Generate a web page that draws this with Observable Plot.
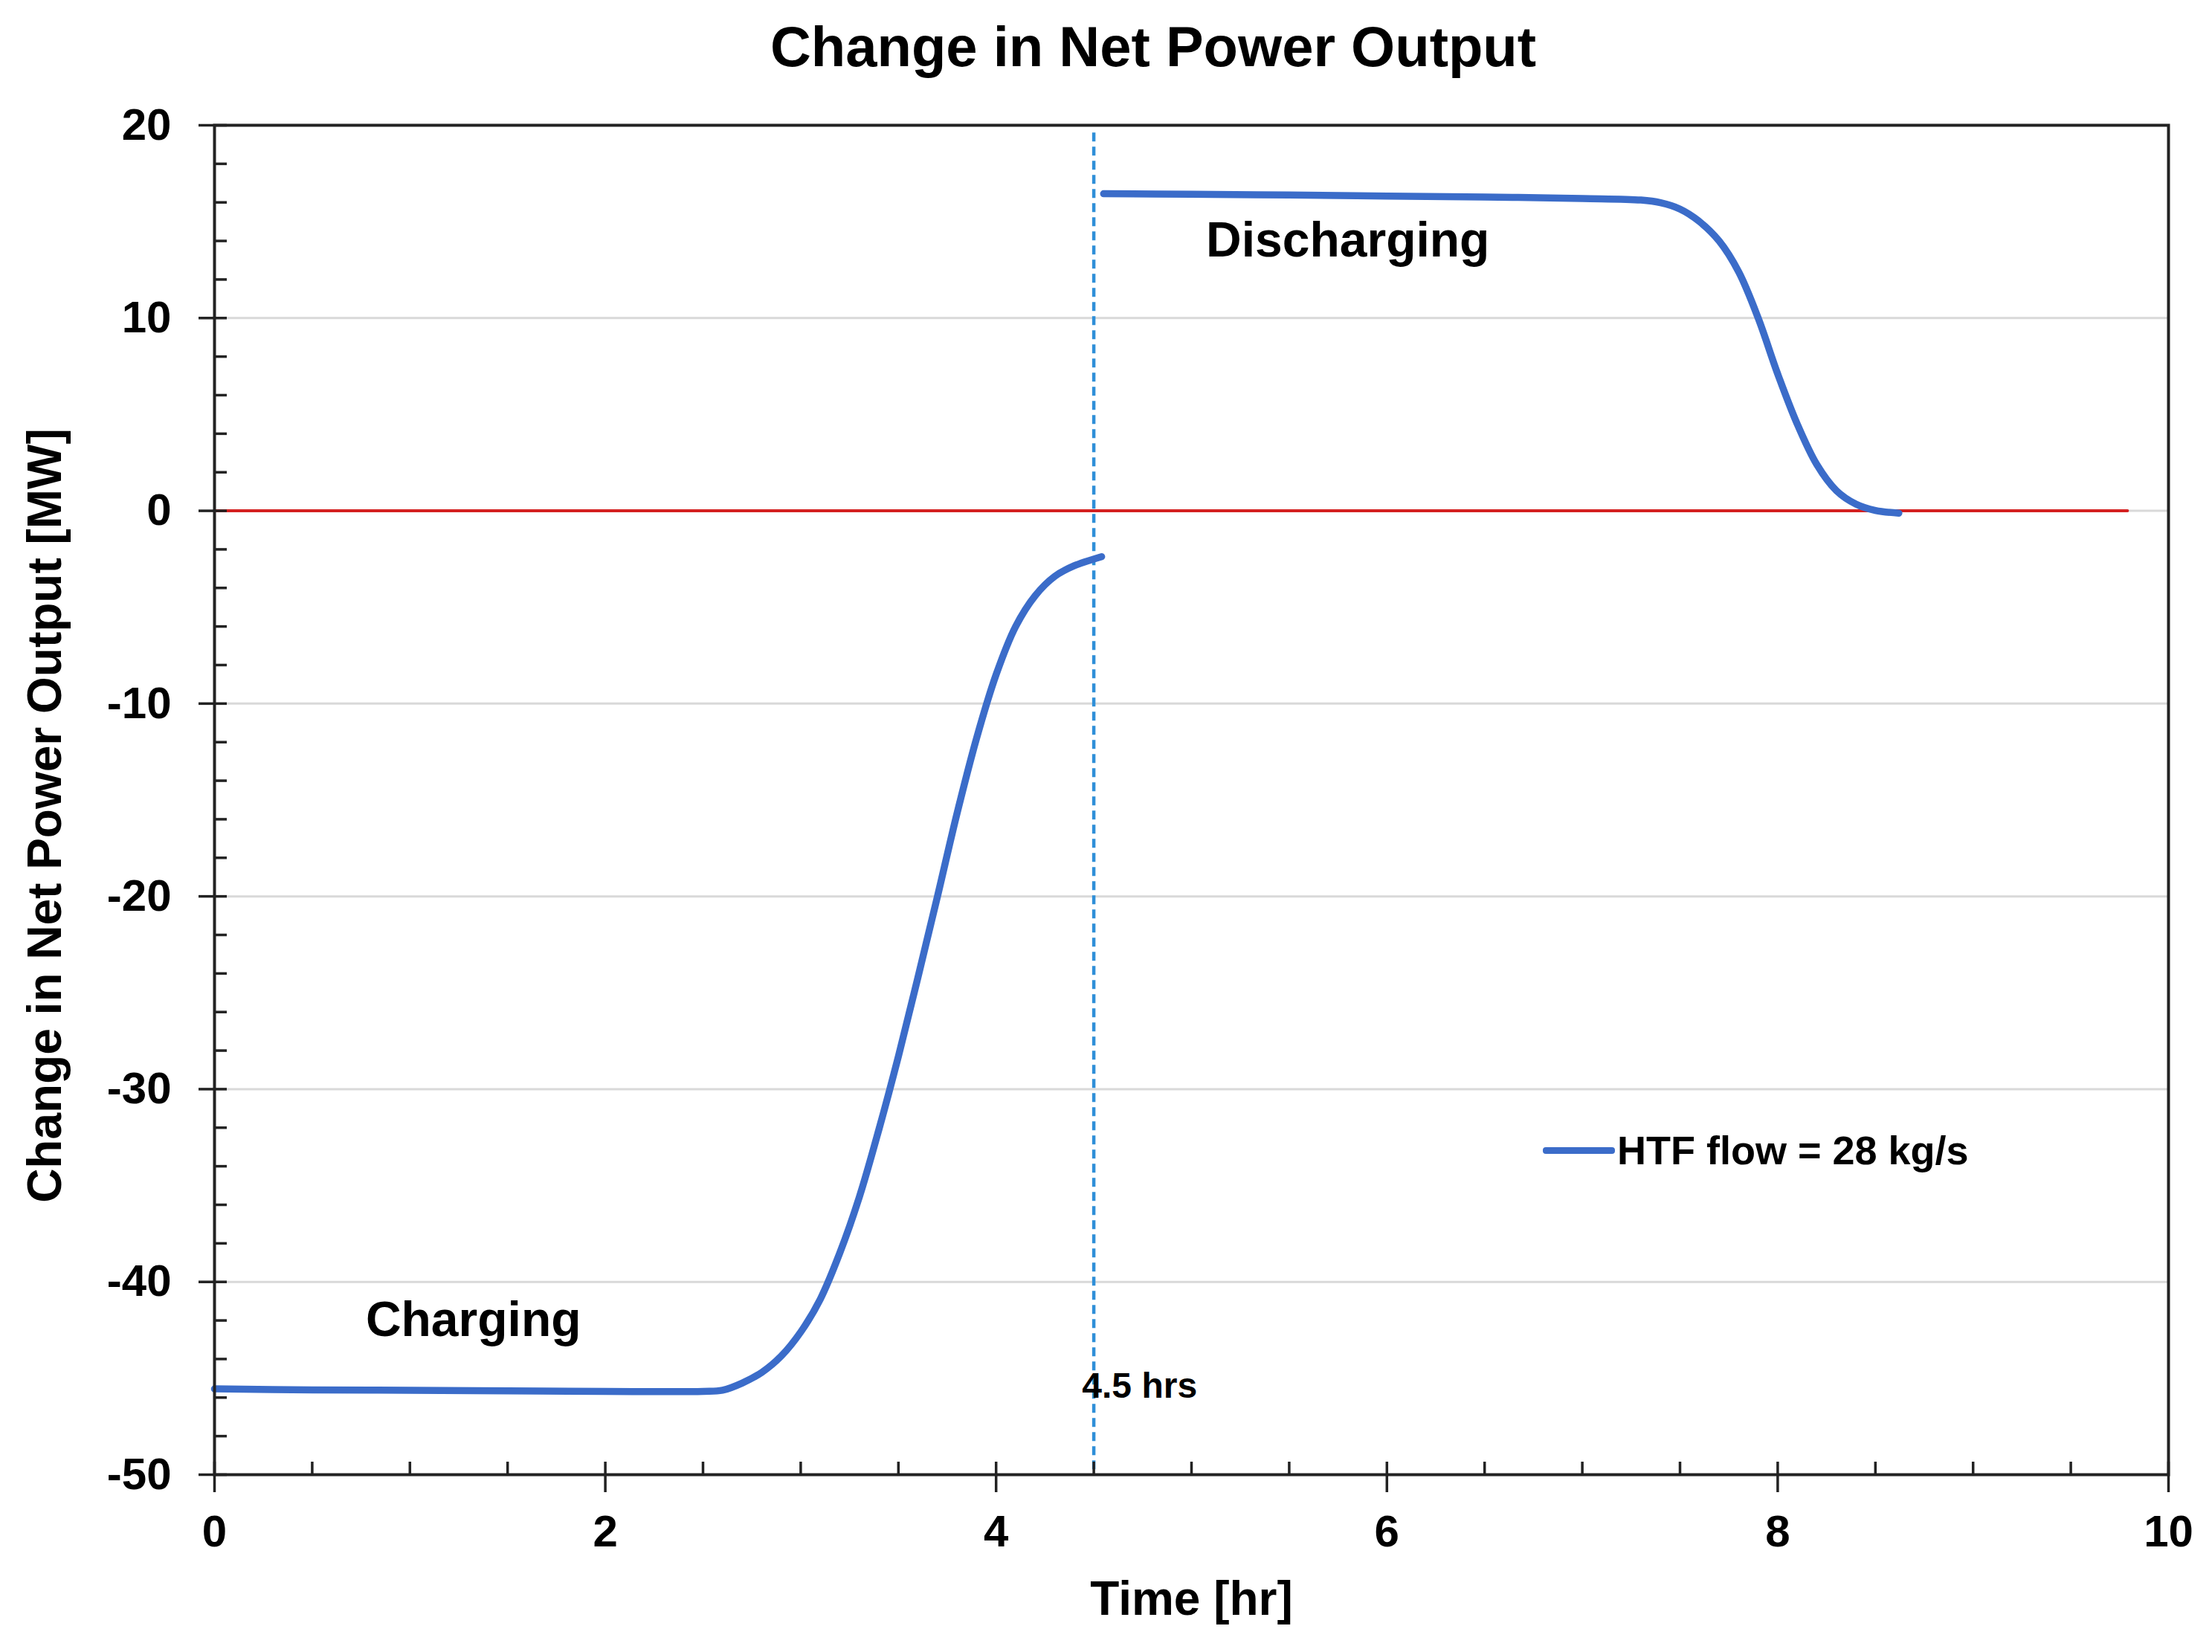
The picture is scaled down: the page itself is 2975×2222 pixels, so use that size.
<!DOCTYPE html>
<html>
<head>
<meta charset="utf-8">
<script src="https://cdn.jsdelivr.net/npm/d3@7"></script>
<script src="https://cdn.jsdelivr.net/npm/@observablehq/plot@0.6"></script>
<style>
  html, body { margin: 0; padding: 0; background: #fff; }
  #chart { position: relative; width: 2975px; height: 2222px; overflow: hidden;
           font-family: "Liberation Sans", Arial, sans-serif; color: #000; }
  #title { box-sizing: border-box; width: 2975px; padding-left: 127px; height: 126px; line-height: 126px;
           text-align: center; font-weight: bold; font-size: 76px; white-space: nowrap; }
  #legend { position: absolute; left: 2075px; top: 1516px; display: flex; align-items: center;
            font-weight: bold; font-size: 54px; white-space: nowrap; }
  #legend .swatch { width: 97px; height: 9px; background: #3b6cc9; border-radius: 4px; margin-right: 3px; }
</style>
</head>
<body>
<div id="chart">
  <div id="title"></div>
  <div id="legend"><span class="swatch"></span><span id="legend-text"></span></div>
</div>
<script>
// ---------- texts ----------
const titleText = "Change in Net Power Output";
const xLabel = "Time [hr]";
const yLabel = "Change in Net Power Output [MW]";
const legendLabel = "HTF flow = 28 kg/s";

// ---------- axis ticks ----------
const xTicks = [0, 2, 4, 6, 8, 10];
const xMinorTicks = [0.5, 1, 1.5, 2.5, 3, 3.5, 4.5, 5, 5.5, 6.5, 7, 7.5, 8.5, 9, 9.5];
const yTicks = [20, 10, 0, -10, -20, -30, -40, -50];
const yMinorTicks = [18, 16, 14, 12, 8, 6, 4, 2, -2, -4, -6, -8, -12, -14, -16, -18,
                     -22, -24, -26, -28, -32, -34, -36, -38, -42, -44, -46, -48];
const yGridTicks = [10, 0, -10, -20, -30, -40];

// ---------- series: charging phase ----------
const chargeTime  = [0, 0.5, 1.0, 1.5, 2.0, 2.5, 2.6, 2.7, 2.8, 2.9, 3.0, 3.1, 3.2, 3.3, 3.4,
                     3.5, 3.6, 3.7, 3.8, 3.9, 4.0, 4.1, 4.2, 4.3, 4.4, 4.54];
const chargePower = [-45.55, -45.6, -45.62, -45.65, -45.68, -45.68, -45.62, -45.25, -44.7, -43.85, -42.6, -40.9, -38.5, -35.6, -32.1,
                     -28.3, -24.2, -20.0, -15.7, -11.8, -8.5, -6.0, -4.4, -3.4, -2.85, -2.38];

// ---------- series: discharging phase ----------
const dischargeTime  = [4.55, 5.0, 5.5, 6.0, 6.5, 7.0, 7.3, 7.4, 7.5, 7.6, 7.7, 7.8, 7.9, 8.0,
                        8.1, 8.2, 8.3, 8.4, 8.5, 8.62];
const dischargePower = [16.45, 16.42, 16.38, 16.33, 16.28, 16.2, 16.12, 15.98, 15.65, 15.0, 14.0, 12.4, 10.0, 7.1,
                        4.5, 2.4, 1.05, 0.35, 0.02, -0.12];

// ---------- reference lines & annotations ----------
const zeroLineTime = [0, 9.79];
const zeroLineValue = 0;
const splitTime = 4.5;
const splitSpan = [19.6, -50];
const phaseNames = ["Charging", "Discharging"];
const phaseLabelTime = [1.325, 5.8];
const phaseLabelPower = [-42, 14];
const splitLabelText = "4.5 hrs";
const splitLabelTime = 4.44;
const splitLabelPower = -45.42;

// ---------- build tables ----------
const chargeData = chargeTime.map((t, i) => ({time: t, power: chargePower[i]}));
const dischargeData = dischargeTime.map((t, i) => ({time: t, power: dischargePower[i]}));
const zeroLine = zeroLineTime.map(t => ({time: t, power: zeroLineValue}));
const splitLine = [{time: splitTime, top: splitSpan[0], bottom: splitSpan[1]}];
const phaseLabels = phaseNames.map((n, i) => ({time: phaseLabelTime[i], power: phaseLabelPower[i], label: n}));
const splitLabel = [{time: splitLabelTime, power: splitLabelPower, label: splitLabelText}];

document.getElementById("title").textContent = titleText;
document.getElementById("legend-text").textContent = legendLabel;

const W = 2975, H = 2222 - 126;
const mT = 42, mB = 239, mL = 288, mR = 59;
const plotW = W - mL - mR, plotH = H - mT - mB;
const blue = "#3b6cc9";
const axisColor = "#222";

const chart = Plot.plot({
  width: W,
  height: H,
  marginTop: mT, marginBottom: mB, marginLeft: mL, marginRight: mR,
  x: {domain: [0, 10]},
  y: {domain: [-50, 20]},
  style: {fontFamily: "'Liberation Sans', Arial, sans-serif", fontWeight: "bold", fontSize: "60px",
          color: "#000", background: "#fff", overflow: "visible"},
  marks: [
    Plot.ruleY(yGridTicks, {stroke: "#d9d9d9", strokeWidth: 3}),
    Plot.line(zeroLine, {x: "time", y: "power", stroke: "#d42020", strokeWidth: 4}),
    Plot.ruleX(splitLine, {x: "time", y1: "top", y2: "bottom", stroke: "#2f8fd8", strokeWidth: 4.5, strokeDasharray: "12,7"}),
    Plot.line(chargeData, {x: "time", y: "power", stroke: blue, strokeWidth: 9.5, curve: "catmull-rom", strokeLinecap: "round"}),
    Plot.line(dischargeData, {x: "time", y: "power", stroke: blue, strokeWidth: 9.5, curve: "catmull-rom", strokeLinecap: "round"}),
    // inside ticks
    Plot.ruleY(yTicks.concat(yMinorTicks), {insetRight: plotW - 17, stroke: axisColor, strokeWidth: 3.5}),
    Plot.ruleX(xTicks.concat(xMinorTicks), {insetTop: plotH - 17, stroke: axisColor, strokeWidth: 3.5}),
    Plot.frame({stroke: axisColor, strokeWidth: 4}),
    Plot.axisY({ticks: yTicks, tickSize: 21, tickPadding: 37, tickFormat: d => String(d), label: null,
                fontSize: 60, fontWeight: "bold", stroke: axisColor, strokeWidth: 3.5}),
    Plot.axisX({ticks: xTicks, tickSize: 24, tickPadding: 30, tickFormat: d => String(d), label: null,
                fontSize: 60, fontWeight: "bold", stroke: axisColor, strokeWidth: 3.5}),
    Plot.text([yLabel], {frameAnchor: "left", textAnchor: "middle", lineAnchor: "middle", dx: -227, dy: 21,
                         rotate: -90, fontSize: 64, fontWeight: "bold", fill: "#000"}),
    Plot.text([xLabel], {frameAnchor: "bottom", textAnchor: "middle", lineAnchor: "middle", dy: 168,
                         fontSize: 64, fontWeight: "bold", fill: "#000"}),
    Plot.text(phaseLabels, {x: "time", y: "power", text: "label", fontSize: 66, fontWeight: "bold", fill: "#000"}),
    Plot.text(splitLabel, {x: "time", y: "power", text: "label", textAnchor: "start", fontSize: 48, fontWeight: "bold", fill: "#000"})
  ]
});
document.getElementById("chart").insertBefore(chart, document.getElementById("legend"));
</script>
</body>
</html>
